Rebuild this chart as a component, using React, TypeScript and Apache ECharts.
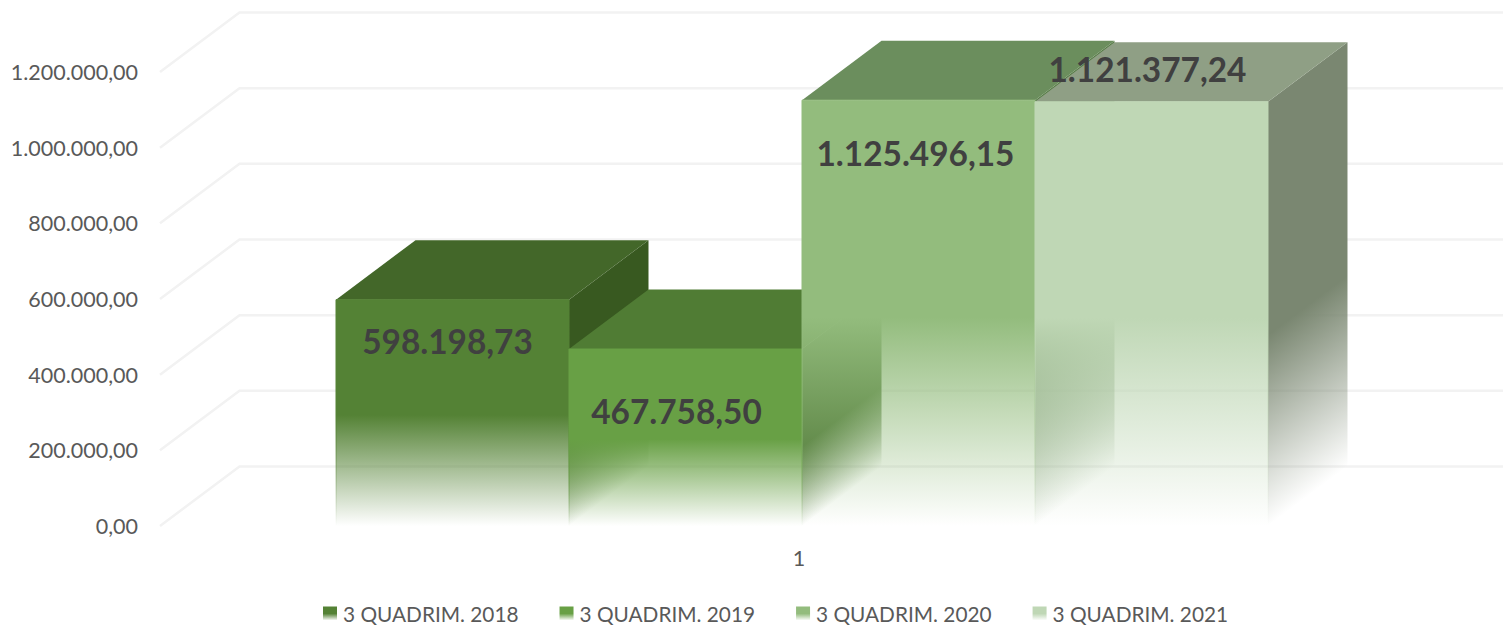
import React, { useEffect, useRef } from "react";
import * as echarts from "echarts";

const categories = ["1"];
const seriesNames = ["3 QUADRIM. 2018", "3 QUADRIM. 2019", "3 QUADRIM. 2020", "3 QUADRIM. 2021"];
const values2018 = [598198.73];
const values2019 = [467758.5];
const values2020 = [1125496.15];
const values2021 = [1121377.24];
const yTicks = [0, 200000, 400000, 600000, 800000, 1000000, 1200000];

const frontColors = [[84, 130, 53], [104, 160, 69], [147, 188, 125], [191, 215, 181]];
const topColors = [[67, 103, 41], [80, 124, 52], [107, 142, 93], [143, 159, 133]];
const sideColors = [[56, 89, 32], [70, 110, 45], [88, 125, 72], [122, 135, 113]];
// label centre offset from the bar's top-centre, in pixels
const labelOffsets = [[-5, 41], [-9, 62], [-3, 53], [-4, -33]];

const DEPTH_X = 79.5;
const DEPTH_Y = -59.5;
const BAR_FRACTION = 0.18146;
const FONT = "Lato, Carlito, Calibri, sans-serif";

const rgba = (c: number[], a: number) => `rgba(${c[0]},${c[1]},${c[2]},${a})`;
const fmt = (v: number) =>
  v.toLocaleString("pt-BR", { minimumFractionDigits: 2, maximumFractionDigits: 2 });

const frontGradient = (c: number[]) =>
  new echarts.graphic.LinearGradient(0, 0, 0, 1, [
    { offset: 0, color: rgba(c, 1) },
    { offset: 0.51, color: rgba(c, 1) },
    { offset: 1, color: rgba(c, 0) },
  ]);

function barSeries(i: number, name: string, values: number[]) {
  return {
    type: "custom",
    name,
    coordinateSystem: "cartesian2d",
    itemStyle: { color: frontGradient(frontColors[i]) },
    encode: { x: 0, y: 1 },
    data: values.map((v, k) => [k, v]),
    silent: true,
    renderItem: (_: any, api: any) => {
      const cat = api.value(0);
      const val = api.value(1);
      const [cx, yBase] = api.coord([cat, 0]);
      const yTop = api.coord([cat, val])[1];
      const w = api.size([1, 0])[0] * BAR_FRACTION;
      const x0 = cx + (i - 2) * w;
      const x1 = x0 + w;
      const by = yBase + DEPTH_Y;
      // the side face fades along the normal of its slanted lower edge
      const dl = Math.hypot(DEPTH_Y, DEPTH_X);
      const ux = -DEPTH_Y / dl;
      const uy = DEPTH_X / dl;
      const len = (yBase - yTop) * uy;
      const side = new echarts.graphic.LinearGradient(
        x1,
        yTop,
        x1 + ux * len,
        yTop + uy * len,
        [
          { offset: 0, color: rgba(sideColors[i], 1) },
          { offset: 0.55, color: rgba(sideColors[i], 1) },
          { offset: 1, color: rgba(sideColors[i], 0) },
        ],
        true
      );
      return {
        type: "group",
        children: [
          {
            type: "polygon",
            shape: { points: [[x1, yTop], [x1 + DEPTH_X, yTop + DEPTH_Y], [x1 + DEPTH_X, by], [x1, yBase]] },
            style: { fill: side },
          },
          {
            type: "polygon",
            shape: { points: [[x0, yTop], [x0 + DEPTH_X, yTop + DEPTH_Y], [x1 + DEPTH_X, yTop + DEPTH_Y], [x1, yTop]] },
            style: { fill: rgba(topColors[i], 1) },
          },
          {
            type: "polygon",
            shape: { points: [[x0, yTop], [x1, yTop], [x1, yBase], [x0, yBase]] },
            style: { fill: frontGradient(frontColors[i]), stroke: frontGradient(frontColors[i]), lineWidth: 1 },
          },
          {
            type: "text",
            z2: 50,
            style: {
              x: (x0 + x1) / 2 + labelOffsets[i][0],
              y: yTop + labelOffsets[i][1],
              text: fmt(val),
              fill: "#404040",
              fontFamily: FONT,
              fontWeight: "bold",
              fontSize: 33.4,
              align: "center",
              verticalAlign: "middle",
            },
          },
        ],
      };
    },
  };
}

const gridSeries = {
  type: "custom",
  coordinateSystem: "cartesian2d",
  silent: true,
  encode: { x: 0, y: 1 },
  data: yTicks.map((t) => [0, t]),
  renderItem: (_: any, api: any) => {
    const [cx, y] = api.coord([api.value(0), api.value(1)]);
    const half = api.size([1, 0])[0] / 2;
    return {
      type: "polyline",
      shape: {
        points: [
          [cx - half, y],
          [cx - half + DEPTH_X, y + DEPTH_Y],
          [cx + half + DEPTH_X, y + DEPTH_Y],
        ],
      },
      style: { stroke: "#f2f2f2", lineWidth: 2.5, fill: "none" },
    };
  },
};

export default function App() {
  const ref = useRef<HTMLDivElement>(null);
  useEffect(() => {
    const chart = echarts.init(ref.current!, null, { renderer: "svg" });
    chart.setOption({
      animation: false,
      backgroundColor: "#ffffff",
      grid: { left: 160, right: 59, top: 72, bottom: 99, containLabel: false },
      xAxis: {
        type: "category",
        data: categories,
        axisLine: { show: false },
        axisTick: { show: false },
        axisLabel: { color: "#595959", fontFamily: FONT, fontSize: 21.5, margin: 21, padding: [0, 6, 0, 0] },
      },
      yAxis: {
        type: "value",
        min: 0,
        max: 1200000,
        interval: 200000,
        splitLine: { show: false },
        axisLine: { show: false },
        axisTick: { show: false },
        axisLabel: {
          color: "#595959",
          fontFamily: FONT,
          fontSize: 21.5,
          margin: 22,
          formatter: (v: number) => fmt(v),
        },
      },
      legend: {
        show: true,
        left: 318,
        top: 598,
        itemWidth: 14,
        itemHeight: 14,
        itemGap: 41,
        icon: "rect",
        data: seriesNames,
        textStyle: { color: "#595959", fontFamily: FONT, fontSize: 20.8, padding: [0, 0, 0, 1] },
      },
      series: [
        gridSeries,
        barSeries(0, seriesNames[0], values2018),
        barSeries(1, seriesNames[1], values2019),
        barSeries(2, seriesNames[2], values2020),
        barSeries(3, seriesNames[3], values2021),
      ],
    });
    return () => chart.dispose();
  }, []);
  return (
    <div
      ref={ref}
      style={{ position: "absolute", left: 0, top: 0, width: 1503, height: 625 }}
    />
  );
}
